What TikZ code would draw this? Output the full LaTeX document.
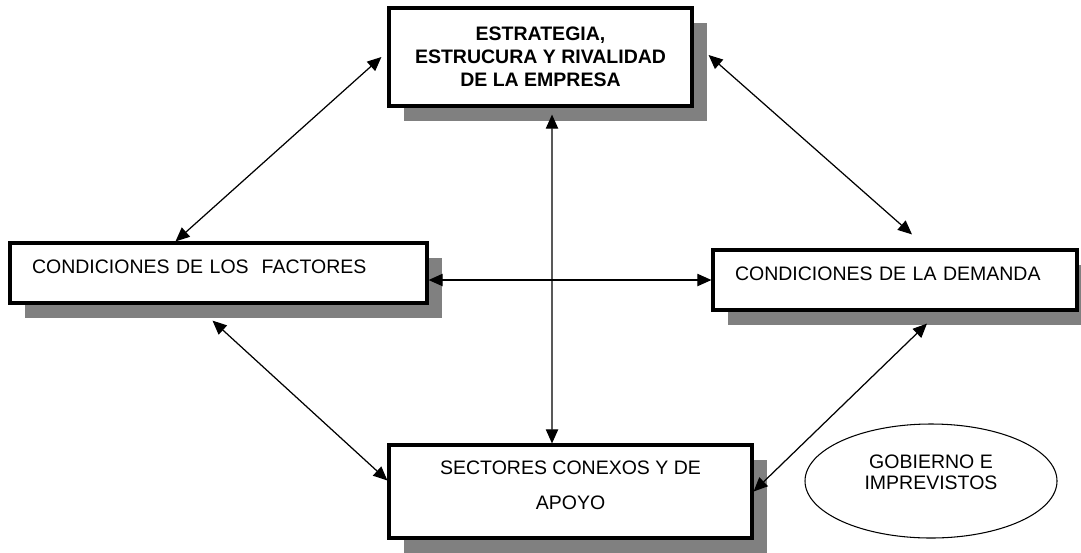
\documentclass[tikz,border=0pt]{standalone}
\usepackage{fontspec}
\setmainfont{Liberation Sans}
\usetikzlibrary{shadows,shapes.geometric,arrows.meta}
\newcommand{\pxu}{0.02cm}
\definecolor{shadowgray}{RGB}{128,128,128}

\begin{document}
\begin{tikzpicture}[x=\pxu, y=-\pxu,
    box/.style={draw, line width=1.8pt, fill=white, inner sep=0pt,
      general shadow={fill=shadowgray, shadow xshift=0.3cm, shadow yshift=-0.3cm}},
    sidebox/.style={box, minimum height=60*\pxu, text height=30*\pxu,
      text depth=30*\pxu, inner xsep=22*\pxu, align=left},
    link/.style={{Triangle[length=8pt,width=7pt]}-{Triangle[length=8pt,width=7pt]}, line width=0.7pt},
    font=\fontsize{11.1}{13.1}\selectfont]
  \useasboundingbox (0,0) rectangle (1081,552);

  % Diamond of the four determinants
  \node[box, minimum width=303*\pxu, minimum height=98*\pxu, align=center,
    font=\fontsize{11.1}{13.1}\selectfont\bfseries] (estr) at (540.5,57)
    {ESTRATEGIA,\\ESTRUCURA Y RIVALIDAD\\DE LA EMPRESA};
  \node[sidebox, text width=373*\pxu] (fact) at (218.5,273) {CONDICIONES DE LOS~~FACTORES};
  \node[sidebox, text width=320*\pxu] (dema) at (895,280) {CONDICIONES DE LA DEMANDA};
  \node[box, minimum width=363*\pxu, minimum height=93*\pxu] (sect) at (570.5,491.5) {};
  \node[align=center, font=\fontsize{11.1}{19.9}\selectfont] (sectT)
    at ([yshift=6*\pxu]sect.center) {SECTORES CONEXOS Y DE\\APOYO};

  % Outside influence
  \node[ellipse, draw, fill=white, line width=0.6pt, minimum width=252*\pxu,
    minimum height=114*\pxu, inner sep=0pt] (gobi) at (931,481) {};
  \node[align=center, font=\fontsize{11.1}{12}\selectfont] (gobiT)
    at ([yshift=9*\pxu]gobi.center) {GOBIERNO E\\IMPREVISTOS};

  \draw[link] ([xshift=-6*\pxu]estr.west) -- ([xshift=-43*\pxu]fact.north);
  \draw[link] ([xshift=15*\pxu, yshift=2*\pxu]estr.east) -- ([xshift=17*\pxu, yshift=14*\pxu]dema.north);
  \draw[link] ([xshift=11.5*\pxu, yshift=-7*\pxu]estr.south) -- ([xshift=-18.5*\pxu]sect.north);
  \draw[link] (fact.east |- dema.west) -- (dema.west);
  \draw[link] ([xshift=-6*\pxu, yshift=-16*\pxu]fact.south) -- ([yshift=11*\pxu]sect.west);
  \draw[link] ([xshift=32*\pxu, yshift=-12*\pxu]dema.south) -- (sect.east);
\end{tikzpicture}
\end{document}
